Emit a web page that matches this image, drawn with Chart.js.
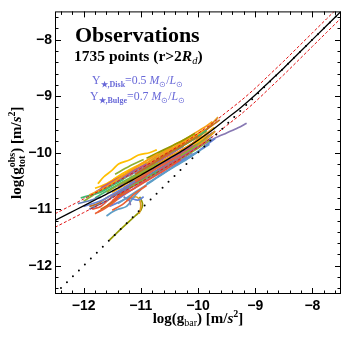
<!DOCTYPE html>
<html>
<head>
<meta charset="utf-8">
<script src="https://cdn.jsdelivr.net/npm/chart.js@4.4.1/dist/chart.umd.min.js"></script>
<style>
  html, body { margin: 0; padding: 0; background: #fff; }
  #wrap { width: 350px; height: 342px; position: relative; }
</style>
</head>
<body>
<div id="wrap"><canvas id="rarChart"></canvas></div>
<script>
// fitted relation (black) and its scatter band (red dashed)
const rarX      = [-12.5, -12.25, -12, -11.75, -11.5, -11.25, -11, -10.75, -10.5, -10.25, -10, -9.75, -9.5, -9.25, -9, -8.75, -8.5, -8.25, -8, -7.75, -7.5];
const rarY      = [-11.20, -11.07, -10.94, -10.81, -10.68, -10.54, -10.40, -10.25, -10.10, -9.95, -9.78, -9.60, -9.40, -9.20, -8.98, -8.74, -8.50, -8.25, -8.00, -7.75, -7.50];
const rarUpperY = [-11.08, -10.95, -10.82, -10.69, -10.56, -10.42, -10.28, -10.13, -9.98, -9.83, -9.66, -9.48, -9.28, -9.08, -8.86, -8.62, -8.38, -8.13, -7.88, -7.63, -7.38];
const rarLowerY = [-11.32, -11.19, -11.06, -10.93, -10.80, -10.66, -10.52, -10.37, -10.22, -10.07, -9.90, -9.72, -9.52, -9.32, -9.10, -8.86, -8.62, -8.37, -8.12, -7.87, -7.62];

// 1:1 line
const unityX = [-12.5, -7.5];
const unityY = [-12.5, -7.5];

const tickValues = [-12, -11, -10, -9, -8];

// galaxy tracks [log gbar, log gobs]; later ones are drawn on top
const galaxyCurves = [
  [[-11.75,-10.55],[-11.65,-10.43],[-11.5,-10.31],[-11.39,-10.2],[-11.2,-10.13],[-11.04,-10.04],[-10.85,-10.0],[-10.72,-9.95]],
  [[-11.6,-10.56],[-11.4,-10.42],[-11.2,-10.3],[-11.0,-10.2],[-10.8,-10.08],[-10.6,-9.98],[-10.45,-9.88],[-10.3,-9.8],[-10.15,-9.72]],
  [[-11.8,-10.63],[-11.6,-10.55],[-11.45,-10.46],[-11.3,-10.36],[-11.1,-10.27],[-10.9,-10.16]],
  [[-10.5,-9.96],[-10.3,-9.84],[-10.1,-9.74],[-9.95,-9.66],[-9.8,-9.54]],
  [[-10.3,-9.98],[-10.1,-9.84],[-9.9,-9.64],[-9.65,-9.37]],
  [[-11.3,-10.4],[-11.0,-10.25],[-10.7,-10.08],[-10.4,-9.9],[-10.1,-9.72],[-9.9,-9.6]],
  [[-12.0,-10.86],[-11.8,-10.73],[-11.6,-10.63],[-11.4,-10.52],[-11.2,-10.4]],
  [[-12.05,-10.8],[-11.85,-10.74],[-11.7,-10.7],[-11.5,-10.58],[-11.3,-10.47]],
  [[-11.8,-10.8],[-11.5,-10.62],[-11.2,-10.45],[-10.9,-10.28],[-10.6,-10.1]],
  [[-11.6,-10.95],[-11.45,-10.83],[-11.3,-10.72],[-11.1,-10.56],[-10.8,-10.36],[-10.5,-10.17],[-10.2,-9.98]],
  [[-11.75,-11.05],[-11.6,-10.95],[-11.4,-10.76],[-11.2,-10.6],[-11.0,-10.46],[-10.8,-10.32]],
  [[-11.7,-11.0],[-11.5,-10.88],[-11.3,-10.7],[-11.1,-10.55],[-10.9,-10.42]],
  [[-9.9,-9.85],[-9.7,-9.74],[-9.5,-9.65],[-9.3,-9.56],[-9.15,-9.48]],
  [[-10.9,-10.55],[-10.6,-10.36],[-10.3,-10.15],[-10.0,-9.98],[-9.8,-9.85]],
  [[-10.7,-10.42],[-10.4,-10.23],[-10.1,-10.05],[-9.85,-9.86],[-9.7,-9.75]],
  [[-11.4,-10.6],[-11.1,-10.42],[-10.8,-10.22],[-10.5,-10.04],[-10.25,-9.88]],
  [[-11.55,-11.55],[-11.4,-11.4],[-11.25,-11.26],[-11.1,-11.12],[-11.0,-11.02],[-10.97,-10.9],[-11.02,-10.78]],
  [[-11.25,-10.85],[-11.1,-10.78],[-11.03,-10.82],[-11.0,-10.95],[-11.03,-11.08]],
  [[-11.6,-11.12],[-11.5,-11.05],[-11.4,-11.0],[-11.25,-10.95],[-11.12,-10.78],[-11.0,-10.65]],
  [[-11.3,-10.78],[-11.2,-10.85],[-11.18,-10.93]],
  [[-11.55,-10.95],[-11.35,-10.86],[-11.22,-10.8],[-11.05,-10.84],[-10.95,-10.78]],
  [[-11.85,-11.0],[-11.7,-10.95],[-11.55,-10.82],[-11.4,-10.7],[-11.2,-10.58],[-11.0,-10.45],[-10.8,-10.3]],
  [[-11.8,-11.08],[-11.65,-11.0],[-11.5,-10.9],[-11.35,-10.78],[-11.2,-10.66]],
  [[-11.2,-10.55],[-10.9,-10.35],[-10.6,-10.18],[-10.3,-10.0],[-10.0,-9.82],[-9.75,-9.65]],
  [[-11.0,-10.3],[-10.7,-10.12],[-10.4,-9.95],[-10.1,-9.78],[-9.85,-9.62]],
  [[-10.8,-10.25],[-10.5,-10.08],[-10.2,-9.9],[-9.95,-9.74],[-9.75,-9.58]],
  [[-11.1,-10.5],[-10.8,-10.3],[-10.5,-10.12],[-10.2,-9.94],[-9.9,-9.75]],
  [[-10.6,-10.05],[-10.3,-9.88],[-10.0,-9.72],[-9.8,-9.55],[-9.62,-9.42]],
  [[-10.4,-10.08],[-10.1,-9.9],[-9.85,-9.72],[-9.7,-9.62]],
  [[-11.3,-10.55],[-11.0,-10.38],[-10.7,-10.2],[-10.4,-10.02]],
  [[-10.2,-9.98],[-9.95,-9.82],[-9.75,-9.66]],
  [[-11.4,-10.82],[-11.1,-10.62],[-10.8,-10.42],[-10.5,-10.25],[-10.2,-10.08]],
  [[-11.5,-10.7],[-11.2,-10.52],[-10.9,-10.34],[-10.6,-10.14],[-10.3,-9.96],[-10.0,-9.78],[-9.8,-9.62]],
  [[-11.0,-10.46],[-10.7,-10.26],[-10.4,-10.08],[-10.1,-9.88]],
  [[-10.9,-10.25],[-10.6,-10.06],[-10.3,-9.9],[-10.05,-9.74],[-9.85,-9.6]],
  [[-10.5,-10.2],[-10.2,-10.02],[-9.95,-9.86],[-9.75,-9.72]],
  [[-11.4,-10.48],[-11.1,-10.32],[-10.8,-10.14],[-10.5,-9.98],[-10.2,-9.82]],
  [[-11.6,-10.7],[-11.3,-10.52],[-11.0,-10.36],[-10.7,-10.18]],
  [[-11.3,-10.62],[-11.0,-10.44],[-10.7,-10.26],[-10.4,-10.1],[-10.1,-9.92],[-9.8,-9.7]],
  [[-10.1,-9.86],[-9.96,-9.78],[-9.83,-9.66],[-9.72,-9.55]],
  [[-11.2,-10.42],[-10.95,-10.22],[-10.7,-10.05],[-10.45,-9.9]],
  [[-10.3,-10.05],[-10.1,-9.92],[-9.9,-9.78],[-9.72,-9.64]],
  [[-12.1,-10.9],[-11.9,-10.85],[-11.7,-10.78]],
  [[-11.9,-10.95],[-11.75,-10.9],[-11.6,-10.8],[-11.45,-10.72]],
  [[-11.0,-10.55],[-10.7,-10.36],[-10.4,-10.18],[-10.1,-10.0]],
  [[-10.6,-10.0],[-10.35,-9.86],[-10.1,-9.68],[-9.9,-9.56],[-9.75,-9.45]],
  [[-11.5,-10.78],[-11.3,-10.68],[-11.1,-10.58],[-10.9,-10.48]],
  [[-11.9,-11.0],[-11.6,-10.85],[-11.3,-10.66],[-11.0,-10.5],[-10.7,-10.33],[-10.4,-10.18]],
  [[-11.7,-10.62],[-11.4,-10.45],[-11.1,-10.3],[-10.8,-10.18],[-10.5,-10.02]],
  [[-11.2,-10.62],[-10.9,-10.45],[-10.6,-10.27],[-10.3,-10.1],[-10.0,-9.92],[-9.8,-9.78]],
  [[-11.6,-10.6],[-11.3,-10.44],[-11.0,-10.3],[-10.7,-10.15]],
  [[-11.1,-10.38],[-10.8,-10.2],[-10.5,-10.0],[-10.25,-9.86],[-10.0,-9.7]],
  [[-11.4,-10.9],[-11.1,-10.7],[-10.8,-10.5],[-10.5,-10.3],[-10.2,-10.12],[-9.95,-9.95]],
  [[-11.8,-10.7],[-11.5,-10.52],[-11.2,-10.36],[-10.9,-10.2]],
  [[-11.5,-10.85],[-11.2,-10.68],[-10.9,-10.5],[-10.6,-10.32],[-10.3,-10.12]],
  [[-10.8,-10.4],[-10.5,-10.2],[-10.2,-10.02],[-9.9,-9.82]],
  [[-10.9,-10.1],[-10.6,-9.95],[-10.3,-9.8],[-10.05,-9.66]],
  [[-12.0,-10.95],[-11.7,-10.85],[-11.4,-10.68],[-11.1,-10.5]],
  [[-11.9,-10.75],[-11.6,-10.6],[-11.3,-10.4],[-11.0,-10.2],[-10.7,-10.02]],
  [[-10.7,-10.32],[-10.4,-10.14],[-10.1,-9.96],[-9.85,-9.8]],
  [[-10.0,-9.88],[-9.85,-9.76],[-9.7,-9.62]],
  [[-11.45,-10.38],[-11.2,-10.24],[-10.95,-10.12]],
  [[-11.5,-11.02],[-11.3,-10.9],[-11.1,-10.72],[-10.9,-10.58]]
];
const curveColors = [
  '#FFBF00', '#FFBF00', '#FFBF00', '#FFBF00', '#E19C24', '#F89F13', '#8FB032', '#47B66D',
  '#47B66D', '#5E81B5', '#EB6235', '#C56E1A', '#8778B3', '#5D9EC7', '#6685D9', '#A5609D',
  '#929600', '#E19C24', '#5D9EC7', '#8778B3', '#6685D9', '#E95536', '#EB6235', '#5E81B5',
  '#8FB032', '#EB6235', '#8778B3', '#C56E1A', '#A5609D', '#929600', '#E95536', '#6685D9',
  '#F89F13', '#BC5B80', '#47B66D', '#5D9EC7', '#E19C24', '#8FB032', '#EB6235', '#FFBF00',
  '#E19C24', '#8FB032', '#5E81B5', '#C56E1A', '#8778B3', '#F89F13', '#BC5B80',
  '#5E81B5', '#EB6235', '#8FB032', '#8778B3', '#C56E1A', '#5D9EC7', '#A5609D', '#E95536',
  '#47B66D', '#929600', '#6685D9', '#F89F13', '#BC5B80', '#E19C24', '#8FB032', '#EB6235'
];

const toPoints = (xs, ys) => xs.map((x, i) => ({ x: x, y: ys[i] }));
const minus = v => (v < 0 ? '\u2212' : '') + Math.abs(v);

const serif = (style, size) => style + ' ' + size + 'px "Liberation Serif", "Times New Roman", serif';
const tickFont = { family: '"Liberation Sans", Arial, sans-serif', size: 14, weight: 'bold' };

// draws a row of text pieces (sub/superscripts via dy), optional stacked piece
function drawRuns(ctx, runs, x, y, align, color) {
  const widths = runs.map(r => {
    ctx.font = r.font;
    let w = ctx.measureText(r.text).width;
    if (r.under) {
      ctx.font = r.under.font;
      w = Math.max(w, ctx.measureText(r.under.text).width);
    }
    return w;
  });
  const total = widths.reduce((a, b) => a + b, 0);
  let cx = align === 'center' ? x - total / 2 : x;
  ctx.fillStyle = color;
  ctx.textAlign = 'left';
  ctx.textBaseline = 'alphabetic';
  runs.forEach((r, i) => {
    ctx.font = r.font;
    ctx.fillText(r.text, cx, y + (r.dy || 0));
    if (r.under) {
      ctx.font = r.under.font;
      ctx.fillText(r.under.text, cx, y + r.under.dy);
    }
    cx += widths[i];
  });
}

const frameTicks = {
  id: 'frameTicks',
  afterDraw(chart) {
    const { ctx, chartArea: a, scales: { x, y } } = chart;
    ctx.save();
    ctx.strokeStyle = '#000';
    ctx.lineWidth = 1;
    ctx.strokeRect(a.left + 0.5, a.top + 0.5, a.right - a.left - 1, a.bottom - a.top - 1);
    ctx.beginPath();
    for (let i = -62; i <= -38; i++) {
      const v = i / 5;
      const len = i % 5 === 0 ? 6 : 3.5;
      const px = Math.round(x.getPixelForValue(v)) + 0.5;
      const py = Math.round(y.getPixelForValue(v)) + 0.5;
      ctx.moveTo(px, a.bottom); ctx.lineTo(px, a.bottom - len);
      ctx.moveTo(px, a.top); ctx.lineTo(px, a.top + len);
      ctx.moveTo(a.left, py); ctx.lineTo(a.left + len, py);
      ctx.moveTo(a.right, py); ctx.lineTo(a.right - len, py);
    }
    ctx.stroke();

    // axis titles
    drawRuns(ctx, [
      { text: 'log(g', font: serif('bold', 15) },
      { text: 'bar', font: serif('', 10), dy: 3 },
      { text: ') [m/', font: serif('bold', 15) },
      { text: 's', font: serif('italic bold', 15) },
      { text: '2', font: serif('bold', 10), dy: -6 },
      { text: ']', font: serif('bold', 15) }
    ], (a.left + a.right) / 2, 323, 'center', '#000');

    ctx.save();
    ctx.translate(21, (a.top + a.bottom) / 2);
    ctx.rotate(-Math.PI / 2);
    drawRuns(ctx, [
      { text: 'log(g', font: serif('bold', 15) },
      { text: 'obs', font: serif('bold', 10), dy: -6, under: { text: 'tot', font: serif('bold', 10), dy: 4 } },
      { text: ') [m/', font: serif('bold', 15) },
      { text: 's', font: serif('italic bold', 15) },
      { text: '2', font: serif('bold', 10), dy: -6 },
      { text: ']', font: serif('bold', 15) }
    ], 0, 0, 'center', '#000');
    ctx.restore();

    // labels inside the frame
    drawRuns(ctx, [{ text: 'Observations', font: serif('bold', 22) }], 75, 42, 'left', '#000');
    drawRuns(ctx, [
      { text: '1735 points (r>2', font: serif('bold', 15.5) },
      { text: 'R', font: serif('italic bold', 15.5) },
      { text: 'd', font: serif('italic', 10.5), dy: 3 },
      { text: ')', font: serif('bold', 15.5) }
    ], 74, 61, 'left', '#000');
    const blue = '#6868d8';
    const mlRow = (comp, val) => [
      { text: '\u03A5', font: serif('', 11.8) },
      { text: '\u2605,' + comp, font: serif('bold', 8) },
      { text: '=' + val + ' ', font: serif('', 11.8) },
      { text: 'M', font: serif('italic', 11.8) },
      { text: '\u2299', font: serif('', 8) },
      { text: '/', font: serif('', 11.8) },
      { text: 'L', font: serif('italic', 11.8) },
      { text: '\u2299', font: serif('', 8) }
    ].map(r => (r.font.indexOf(' 8px') >= 0 ? Object.assign(r, { dy: 2.5 }) : r));
    drawRuns(ctx, mlRow('Disk', '0.5'), 92, 84, 'left', blue);
    drawRuns(ctx, mlRow('Bulge', '0.7'), 90, 100, 'left', blue);
    ctx.restore();
  }
};

const datasets = [
  {
    data: toPoints(unityX, unityY), borderColor: '#000', borderWidth: 2,
    borderDash: [0, 8.4], borderCapStyle: 'round', order: 0
  },
  {
    data: toPoints(rarX, rarY), borderColor: '#000', borderWidth: 1.3,
    cubicInterpolationMode: 'monotone', order: 1
  },
  {
    data: toPoints(rarX, rarUpperY), borderColor: '#e01010', borderWidth: 1,
    borderDash: [3, 2], cubicInterpolationMode: 'monotone', order: 2
  },
  {
    data: toPoints(rarX, rarLowerY), borderColor: '#e01010', borderWidth: 1,
    borderDash: [3, 2], cubicInterpolationMode: 'monotone', order: 2
  }
];
galaxyCurves.forEach((pts, i) => {
  datasets.push({
    data: pts.map(p => ({ x: p[0], y: p[1] })),
    borderColor: curveColors[i], borderWidth: 1.7, tension: 0.3, order: 200 - i
  });
});
datasets.forEach(d => { d.showLine = true; d.pointRadius = 0; d.fill = false; });

const axisCommon = {
  type: 'linear', min: -12.5, max: -7.5,
  grid: { display: false, drawTicks: false },
  border: { display: false },
  afterBuildTicks: s => { s.ticks = tickValues.map(v => ({ value: v })); },
  ticks: { color: '#000', font: tickFont, maxRotation: 0, autoSkip: false, callback: v => minus(v) }
};

new Chart(document.getElementById('rarChart'), {
  type: 'scatter',
  data: { datasets: datasets },
  plugins: [frameTicks],
  options: {
    responsive: true,
    maintainAspectRatio: false,
    animation: false,
    layout: { padding: { top: 5, right: 9, left: 0, bottom: 0 } },
    plugins: { legend: { display: false }, tooltip: { enabled: false } },
    scales: {
      x: Object.assign({}, axisCommon, {
        afterFit: s => { s.height = 48; },
        ticks: Object.assign({}, axisCommon.ticks, { padding: 4 })
      }),
      y: Object.assign({}, axisCommon, {
        afterFit: s => { s.width = 55; },
        ticks: Object.assign({}, axisCommon.ticks, { padding: 3 })
      })
    }
  }
});
</script>
</body>
</html>
